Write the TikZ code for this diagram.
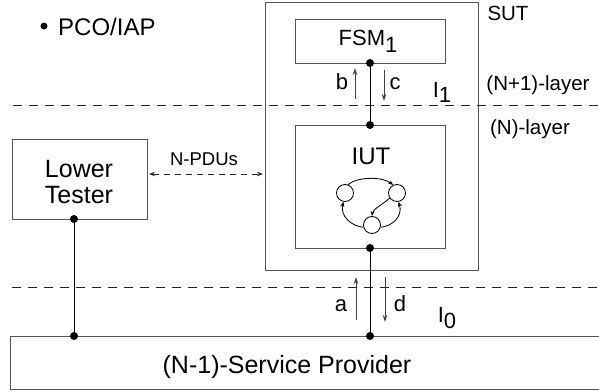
\documentclass[tikz,border=0pt]{standalone}
\usepackage{fontspec}
\setmainfont{Liberation Sans}
\usetikzlibrary{arrows.meta}
\definecolor{boxgray}{RGB}{85,85,85}
\begin{document}
\begin{tikzpicture}[x=1pt,y=-1pt,
  box/.style={draw=boxgray,line width=1pt,inner sep=0pt},
  dot/.style={circle,fill=black,inner sep=0pt,minimum size=8pt},
  wire/.style={draw=black,line width=0.95pt},
  sig/.style={draw=black!75,line width=0.95pt,-{Stealth[length=7pt,width=4.5pt]}},
  layerline/.style={draw=black!85,line width=0.9pt,dash pattern=on 9pt off 7pt},
  pdu/.style={draw=black!85,line width=0.9pt,dash pattern=on 6pt off 5pt,{Stealth[length=6pt,width=4.5pt]}-{Stealth[length=6pt,width=4.5pt]}},
  state/.style={circle,draw=black,line width=0.85pt,inner sep=0pt,minimum size=17pt},
  trans/.style={draw=black,line width=0.85pt,-{Stealth[length=5pt,width=4pt]}},
  lbl/.style={inner sep=0pt,anchor=base,font=\fontsize{22}{24}\selectfont},
]
\useasboundingbox (0,0) rectangle (599,391);

% boxes
\node[box,minimum width=213pt,minimum height=268pt] (sut) at (371.5,136) {};
\node[box,minimum width=150pt,minimum height=44pt] (fsm) at (370,41) {};
\node[box,minimum width=150pt,minimum height=123pt] (iut) at (370,186.5) {};
\node[box,minimum width=135pt,minimum height=80pt] (lt) at (79.5,179) {};
\node[box,minimum width=610pt,minimum height=53pt] (sp) at (315,362.5) {};

% layer lines
\coordinate (l1a) at (13,105);
\coordinate (l1b) at (599,105);
\coordinate (l0a) at (12,287);
\coordinate (l0b) at (599,287);
\draw[layerline] (l1a) -- (l1b);
\draw[layerline] (l0a) -- (l0b);

% wires
\coordinate (fsmp) at (370,63);
\coordinate (iuttp) at (370,125);
\coordinate (iutbp) at (370,248);
\coordinate (ltp) at (74,219);
\coordinate (sp1p) at (74,336);
\coordinate (sp2p) at (370,336);
\draw[wire] (fsmp) -- (iuttp);
\draw[wire] (iutbp) -- (sp2p);
\draw[wire] (ltp) -- (sp1p);

% dots
\node[dot] (fsmdot) at (fsmp) {};
\node[dot] (iuttop) at (iuttp) {};
\node[dot] (iutbot) at (iutbp) {};
\node[dot] (ltdot) at (ltp) {};
\node[dot] (spdot1) at (sp1p) {};
\node[dot] (spdot2) at (sp2p) {};
\node[dot,minimum size=7pt] (pcodot) at (44,26) {};

% signal arrows
\coordinate (b1) at (355,99);  \coordinate (b2) at (355,68);
\coordinate (c1) at (384,70);  \coordinate (c2) at (384,101);
\coordinate (a1) at (356,320); \coordinate (a2) at (356,277);
\coordinate (d1) at (385,277); \coordinate (d2) at (385,322);
\draw[sig] (b1) -- (b2);
\draw[sig] (c1) -- (c2);
\draw[sig] (a1) -- (a2);
\draw[sig] (d1) -- (d2);

% N-PDUs
\coordinate (p1) at (149,174);
\coordinate (p2) at (263,174);
\draw[pdu] (p1) -- (p2);

% state machine
\node[state] (s1) at (345,193) {};
\node[state] (s2) at (397,193) {};
\node[state] (s3) at (372,225) {};
\draw[trans] (s1.70) .. controls (357,177) and (381,176) .. (s2.115);
\draw[trans] (s2.215) .. controls (382,205) and (373,209) .. (s3.90);
\draw[trans] (s3.195) .. controls (351,226) and (340,216) .. (s1.-100);
\draw[trans] (s3.-15) .. controls (393,226) and (403,216) .. (s2.-80);

% labels
\node[lbl,font=\fontsize{24}{26}\selectfont,anchor=base west] (pco) at (58,35) {PCO/IAP};
\node[lbl,font=\fontsize{20.5}{22}\selectfont] (sutl) at (508,20) {SUT};
\node[lbl] (fsml) at (368,45) {FSM\raisebox{-7pt}{1}};
\node[lbl] (bl) at (342,89) {b};
\node[lbl] (cl) at (395,89) {c};
\node[lbl] (i1l) at (442,97) {I\raisebox{-5pt}{1}};
\node[lbl,font=\fontsize{20.5}{22}\selectfont] (up) at (538,90) {(N+1)-layer};
\node[lbl,font=\fontsize{20.5}{22}\selectfont] (nl) at (530,134) {(N)-layer};
\node[lbl,font=\fontsize{18.5}{20}\selectfont] (pdul) at (204,165) {N-PDUs};
\node[lbl,font=\fontsize{24}{26}\selectfont] (iutl) at (371,164) {IUT};
\node[lbl,font=\fontsize{25}{26}\selectfont] (ltl1) at (79,177) {Lower};
\node[lbl,font=\fontsize{25}{26}\selectfont] (ltl2) at (79,203) {Tester};
\node[lbl] (al) at (341,311) {a};
\node[lbl] (dl) at (400,311) {d};
\node[lbl] (i0l) at (447,322) {I\raisebox{-6pt}{0}};
\node[lbl,font=\fontsize{25}{26}\selectfont] (spl) at (287,373) {(N-1)-Service Provider};
\end{tikzpicture}
\end{document}
